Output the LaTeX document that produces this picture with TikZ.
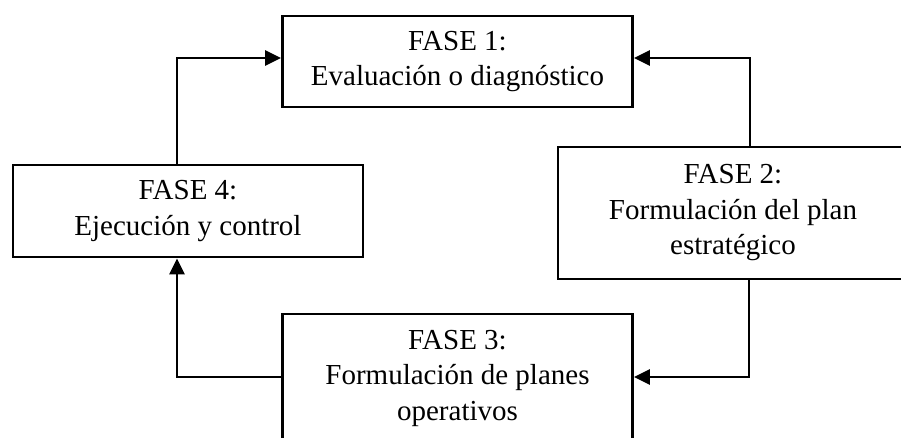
\documentclass[tikz,border=0pt]{standalone}
\usepackage{fontspec}
\setmainfont{Liberation Serif}
\usetikzlibrary{arrows.meta}
\begin{document}
\begin{tikzpicture}[x=1pt,y=-1pt,
  phase/.style={draw, line width=2.8pt, align=center, inner sep=0pt,
    font=\fontsize{29}{35.5}\selectfont, minimum width=350pt},
  flow/.style={line width=2.8pt, -{Triangle[length=16pt,width=15pt]}}]
  \useasboundingbox (0,0) rectangle (901,438);
  \clip (0,0) rectangle (901,438);
  \fill[white] (0,0) rectangle (901,438);

  % the four phases of the cycle
  \node[phase, minimum height=91pt]  (b1) at (457.5,61.5) {FASE 1:\\Evaluación o diagnóstico};
  \node[phase, minimum height=132pt] (b2) at (733,213)  {FASE 2:\\Formulación del plan\\estratégico};
  \node[phase, minimum height=128pt] (b3) at (457.5,378) {FASE 3:\\Formulación de planes\\operativos};
  \node[phase, minimum height=92pt]  (b4) at (188,211)  {FASE 4:\\Ejecución y control};

  % corner points of the connectors
  \coordinate (c12) at (750,58);
  \coordinate (c23) at (749,377);
  \coordinate (c34) at (177,377);
  \coordinate (c41) at (177,58);

  \draw[flow] (c12 |- b2.north) -- (c12) -- (c12 -| b1.east);
  \draw[flow] (c23 |- b2.south) -- (c23) -- (c23 -| b3.east);
  \draw[flow] (c34 -| b3.west) -- (c34) -- (c34 |- b4.south);
  \draw[flow] (c41 |- b4.north) -- (c41) -- (c41 -| b1.west);
\end{tikzpicture}
\end{document}
